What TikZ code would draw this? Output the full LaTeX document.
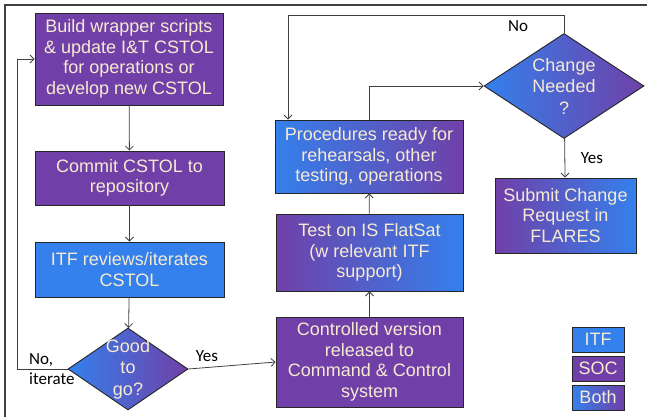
\documentclass[tikz,border=0pt]{standalone}
\usepackage{fontspec}
\setmainfont{Liberation Sans}
\newfontfamily\lblfont{Carlito}
\usetikzlibrary{shapes.geometric,arrows.meta}
\definecolor{socpurple}{RGB}{112,64,168}
\definecolor{itfblue}{RGB}{52,128,236}
\definecolor{boxtext}{RGB}{246,234,210}
\definecolor{wirecol}{RGB}{64,64,64}

\begin{document}
\begin{tikzpicture}[x=1pt,y=-1pt,
    box/.style={draw=black!85,line width=0.9pt,text=boxtext,align=center,inner sep=2pt,
      font=\fontsize{18}{20.5}\selectfont},
    soc/.style={box,fill=socpurple},
    itf/.style={box,fill=itfblue},
    both/.style={box,left color=itfblue,right color=socpurple},
    socitf/.style={box,left color=socpurple,right color=itfblue},
    decide/.style={diamond,draw=black!85,line width=0.9pt,inner sep=0pt,
      left color=itfblue,right color=socpurple},
    dtext/.style={text=boxtext,align=center,inner sep=0pt,font=\fontsize{18}{21.5}\selectfont},
    lbl/.style={font=\lblfont\fontsize{17}{20}\selectfont,align=left,inner sep=0pt},
    wire/.style={draw=wirecol,line width=0.8pt,-{Straight Barb[length=4pt,width=8pt]}}]
  \useasboundingbox (0,0) rectangle (647,417);
  \draw[wirecol,line width=1.2pt] (5,417) -- (5,5) -- (647,5);

  % left column
  \node[soc,minimum width=188pt,minimum height=92pt] (build) at (129,59)
    {Build wrapper scripts\\\& update I\&T CSTOL\\for operations or\\develop new CSTOL};
  \node[soc,minimum width=189pt,minimum height=54pt] (commit) at (129.5,178)
    {Commit CSTOL to\\repository};
  \node[itf,minimum width=189pt,minimum height=55pt] (review) at (129.5,269.5)
    {ITF reviews/iterates\\CSTOL};
  \node[decide,minimum width=120pt,minimum height=82pt,
    label={[dtext]center:{Good\\to\\go?}}] (good) at (128,369) {};

  % middle column
  \node[soc,minimum width=187pt,minimum height=90pt] (release) at (369.5,362)
    {Controlled version\\released to\\Command \& Control\\system};
  \node[socitf,minimum width=187pt,minimum height=77pt] (flatsat) at (369.5,252.5)
    {Test on IS FlatSat\\(w relevant ITF\\support)};
  \node[both,minimum width=188pt,minimum height=73pt] (ready) at (369,156.5)
    {Procedures ready for\\rehearsals, other\\testing, operations};

  % right column
  \node[decide,minimum width=160pt,minimum height=105pt,
    label={[dtext]center:{Change\\Needed\\?}}] (change) at (564,86) {};
  \node[socitf,minimum width=141pt,minimum height=75pt] (submit) at (565.5,215.5)
    {Submit Change\\Request in\\FLARES};

  % legend
  \node[itf,minimum width=52pt,minimum height=25pt,inner sep=0pt] (keyitf) at (598,339.5) {ITF};
  \node[soc,minimum width=52pt,minimum height=25pt,inner sep=0pt] (keysoc) at (598,368.5) {SOC};
  \node[both,minimum width=52pt,minimum height=25pt,inner sep=0pt] (keyboth) at (598,397.5) {Both};

  % connectors
  \coordinate (iterloop) at (17,59);
  \coordinate (noloop) at (288,15);
  \draw[wire] (build) -- (commit);
  \draw[wire] (commit) -- (review);
  \draw[wire] (review) -- (good);
  \draw[wire] (good.west) -| (iterloop) -- (build.west);
  \draw[wire] (good.east) -- (release.west);
  \draw[wire] (release) -- (flatsat);
  \draw[wire] (flatsat) -- (ready);
  \draw[wire] (ready.north) |- (change.west);
  \draw[wire] (change.north) |- (noloop) -- (noloop |- ready.north);
  \draw[wire] (change) -- (submit);

  \node[lbl,anchor=west] (nolbl) at (29,369) {No,\\iterate};
  \node[lbl] (yeslbl) at (207,356) {Yes};
  \node[lbl] (nochg) at (518,26) {No};
  \node[lbl] (yeschg) at (592,158) {Yes};
\end{tikzpicture}
\end{document}
